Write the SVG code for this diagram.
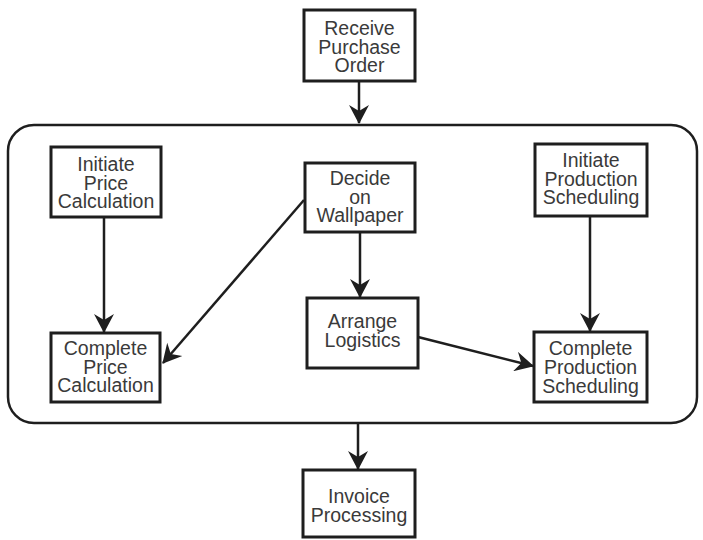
<svg xmlns="http://www.w3.org/2000/svg" width="703" height="540" viewBox="0 0 703 540">
<style>
.box{fill:#fff;stroke:#1e1e1e;stroke-width:3}
.cont{fill:#fff;stroke:#1e1e1e;stroke-width:2.5}
.lbl{font-family:"Liberation Sans",Arial,sans-serif;font-size:19.5px;fill:#3a3a3a;text-anchor:middle}
.edge{stroke:#1e1e1e;stroke-width:2.5;fill:none;marker-end:url(#ah)}
</style>
<defs>
<marker id="ah" markerUnits="userSpaceOnUse" viewBox="-19 -10 21 20" markerWidth="21" markerHeight="20" refX="0" refY="0" orient="auto">
<path d="M1,0 L-18,-10 L-12,0 L-18,10 Z" fill="#1e1e1e"/>
</marker>
</defs>
<rect width="703" height="540" fill="#fff"/>
<g id="container"><rect class="cont" x="8" y="125" width="689" height="298" rx="26"/></g>
<g id="receive"><rect class="box" x="304" y="10" width="111" height="71"/>
<text class="lbl"><tspan x="359.5" y="35">Receive</tspan><tspan x="359.5" y="53.5">Purchase</tspan><tspan x="359.5" y="72">Order</tspan></text></g>
<g id="initiate-price"><rect class="box" x="51" y="147" width="110" height="70"/>
<text class="lbl"><tspan x="106" y="171">Initiate</tspan><tspan x="106" y="189.5">Price</tspan><tspan x="106" y="208">Calculation</tspan></text></g>
<g id="decide"><rect class="box" x="305" y="163" width="110" height="69"/>
<text class="lbl"><tspan x="360" y="185">Decide</tspan><tspan x="360" y="203.5">on</tspan><tspan x="360" y="222">Wallpaper</tspan></text></g>
<g id="initiate-production"><rect class="box" x="535" y="144" width="112" height="72"/>
<text class="lbl"><tspan x="591" y="167">Initiate</tspan><tspan x="591" y="185.5">Production</tspan><tspan x="591" y="204">Scheduling</tspan></text></g>
<g id="complete-price"><rect class="box" x="51" y="333" width="109" height="69"/>
<text class="lbl"><tspan x="105.5" y="355">Complete</tspan><tspan x="105.5" y="373.5">Price</tspan><tspan x="105.5" y="392">Calculation</tspan></text></g>
<g id="arrange"><rect class="box" x="307" y="298" width="111" height="70"/>
<text class="lbl"><tspan x="362.5" y="328">Arrange</tspan><tspan x="362.5" y="347">Logistics</tspan></text></g>
<g id="complete-production"><rect class="box" x="534" y="332" width="113" height="70"/>
<text class="lbl"><tspan x="590.5" y="355">Complete</tspan><tspan x="590.5" y="374">Production</tspan><tspan x="590.5" y="393">Scheduling</tspan></text></g>
<g id="invoice"><rect class="box" x="303" y="470" width="112" height="67"/>
<text class="lbl"><tspan x="359" y="503">Invoice</tspan><tspan x="359" y="522">Processing</tspan></text></g>
<g id="connectors">
<line class="edge" x1="359" y1="81" x2="359" y2="123"/>
<line class="edge" x1="358" y1="423" x2="358" y2="469"/>
<line class="edge" x1="104" y1="217" x2="104" y2="332"/>
<line class="edge" x1="304" y1="200" x2="163" y2="363"/>
<line class="edge" x1="360" y1="232" x2="360" y2="297"/>
<line class="edge" x1="418" y1="337" x2="533" y2="366"/>
<line class="edge" x1="590" y1="216" x2="590" y2="331"/>
</g>
</svg>
